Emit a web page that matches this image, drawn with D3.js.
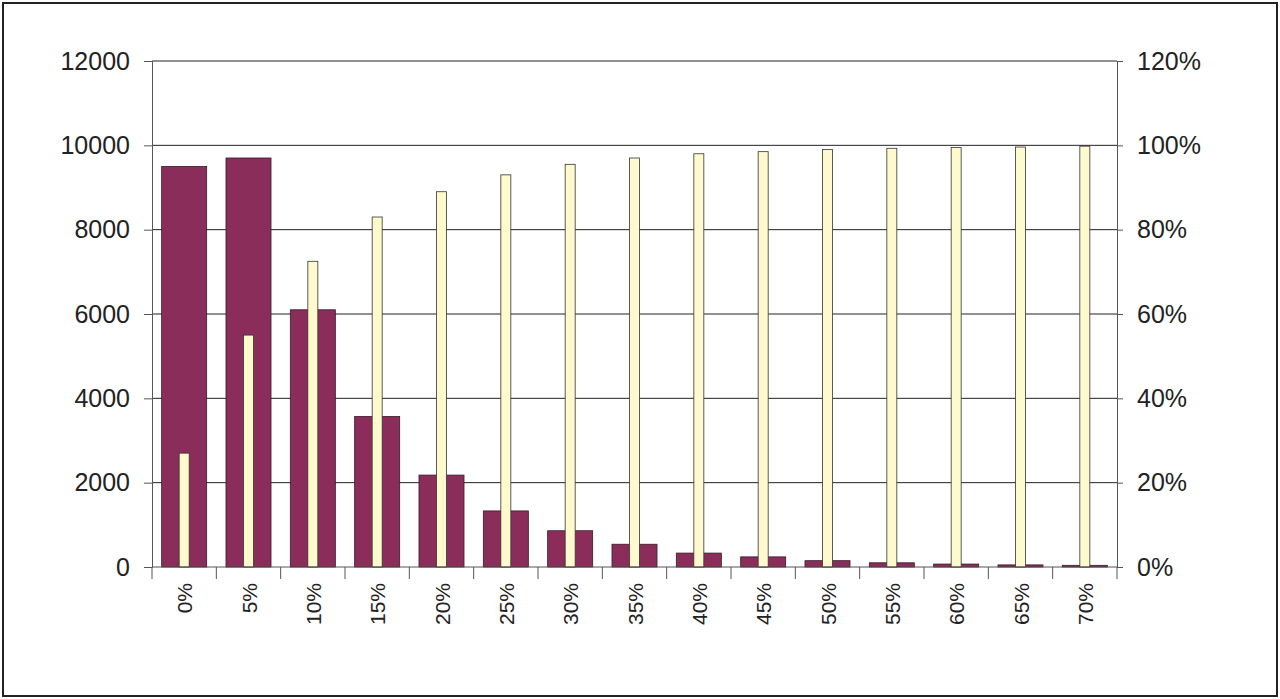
<!DOCTYPE html>
<html><head><meta charset="utf-8">
<script src="https://cdn.jsdelivr.net/npm/d3@7"></script>
<style>body{margin:0;background:#fff}text{font-family:Arial,"Liberation Sans",sans-serif}</style>
</head><body><div id="chart"></div>
<script>
// chart data
const categories = ["0%","5%","10%","15%","20%","25%","30%","35%","40%","45%","50%","55%","60%","65%","70%"];
const counts = [9500, 9700, 6100, 3570, 2180, 1330, 860, 540, 330, 240, 150, 100, 70, 50, 40];
const cumulative = [27, 55, 72.5, 83, 89, 93, 95.5, 97, 98, 98.5, 99, 99.3, 99.5, 99.6, 99.8];
const leftTicks = [0, 2000, 4000, 6000, 8000, 10000, 12000];
const rightTicks = [0, 20, 40, 60, 80, 100, 120];

const W = 1280, H = 699;
const margin = {top: 61, left: 152, right: 163, bottom: 132};
const width = W - margin.left - margin.right;
const height = H - margin.top - margin.bottom;

const svg = d3.select("#chart").append("svg").attr("width", W).attr("height", H);
svg.append("rect").attr("x", 3).attr("y", 3).attr("width", W - 6).attr("height", H - 6)
    .attr("fill", "#fff").attr("stroke", "#222").attr("stroke-width", 2);

const chart = svg.append("g").attr("transform", `translate(${margin.left},${margin.top})`);

const x = d3.scaleBand().domain(categories).range([0, width]).paddingInner(0.3).paddingOuter(0.15);
const xb = d3.scaleBand().domain(categories).range([0, width]);
const yL = d3.scaleLinear().domain([0, 12000]).range([height, 0]);
const yR = d3.scaleLinear().domain([0, 120]).range([height, 0]);

// gridlines
chart.selectAll(".grid").data(leftTicks.slice(1)).enter().append("line")
    .attr("x1", 0).attr("x2", width).attr("y1", d => yL(d)).attr("y2", d => yL(d))
    .attr("stroke", "#222").attr("stroke-width", 1);

// axes
const axL = chart.append("g").call(d3.axisLeft(yL).tickValues(leftTicks).tickSize(8).tickPadding(14).tickFormat(d3.format("d")));
const axR = chart.append("g").attr("transform", `translate(${width},0)`)
    .call(d3.axisRight(yR).tickValues(rightTicks).tickSize(6).tickPadding(14).tickFormat(d => d + "%"));
[axL, axR].forEach(a => {
    a.select(".domain").attr("stroke", "#555");
    a.selectAll(".tick line").attr("stroke", "#555");
    a.selectAll("text").attr("font-size", 25).attr("fill", "#222");
});

// bars
chart.selectAll(".count").data(counts).enter().append("rect")
    .attr("x", (d, i) => x(categories[i]))
    .attr("width", x.bandwidth())
    .attr("y", d => yL(d)).attr("height", d => height - yL(d))
    .attr("fill", "#8a2d5b").attr("stroke", "#3a1a28").attr("stroke-width", 0.8);

const nb = 10;
chart.selectAll(".cum").data(cumulative).enter().append("rect")
    .attr("x", (d, i) => xb(categories[i]) + xb.bandwidth() / 2 - nb / 2)
    .attr("width", nb)
    .attr("y", d => yR(d)).attr("height", d => height - yR(d))
    .attr("fill", "#fffacd").attr("stroke", "#333").attr("stroke-width", 0.8);

// x axis
const axB = chart.append("g").attr("transform", `translate(0,${height})`);
axB.append("line").attr("x1", 0).attr("x2", width).attr("stroke", "#555");
axB.selectAll(".tk").data(d3.range(categories.length + 1)).enter().append("line")
    .attr("x1", i => i * xb.bandwidth()).attr("x2", i => i * xb.bandwidth())
    .attr("y1", 0).attr("y2", 12).attr("stroke", "#555");
axB.selectAll(".lbl").data(categories).enter().append("text")
    .attr("transform", d => `translate(${xb(d) + xb.bandwidth() / 2 + 8},${16}) rotate(-90)`)
    .attr("text-anchor", "end").attr("font-size", 21).attr("fill", "#222").text(d => d);
</script></body></html>
